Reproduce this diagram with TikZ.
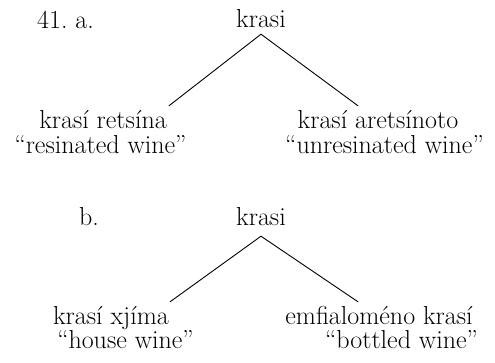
\documentclass[tikz,border=0pt]{standalone}
\usepackage{tikz}

\begin{document}
\begin{tikzpicture}[x=1pt,y=-1pt,line cap=round,line join=round,
  every node/.style={inner sep=0pt,text height=17pt,text depth=4pt,
    font=\fontsize{26}{31}\selectfont}]
\useasboundingbox (0,0) rectangle (495,362);
% a.
\node [anchor=base] (labA) at (65.5,28) {41.\ a.};
\node [anchor=base] (rootA) at (261,27) {krasi};
\node [anchor=base] (retsina) at (103,128) {krasí retsína};
\node [anchor=base] (glossRet) at (100.5,153) {“resinated wine”};
\node [anchor=base] (aretsin) at (378,128) {krasí aretsínoto};
\node [anchor=base] (glossAret) at (384.5,153) {“unresinated wine”};
\draw [line width=0.9pt] ([yshift=-3pt]rootA.south) -- ([shift={(2pt,5pt)}]retsina.north east);
\draw [line width=0.9pt] ([yshift=-3pt]rootA.south) -- ([shift={(-20pt,5pt)}]aretsin.north);
% b.
\node [anchor=base] (labB) at (89,225) {b.};
\node [anchor=base] (rootB) at (261,225) {krasi};
\node [anchor=base] (xjima) at (111,324) {krasí xjíma};
\node [anchor=base] (glossXji) at (125.5,348) {“house wine”};
\node [anchor=base] (emfial) at (379,324) {emfialoméno krasí};
\node [anchor=base] (glossEmf) at (401.5,348) {“bottled wine”};
\draw [line width=0.9pt] ([yshift=-7pt]rootB.south) -- ([shift={(1pt,5pt)}]xjima.north east);
\draw [line width=0.9pt] ([yshift=-7pt]rootB.south) -- ([shift={(-21pt,5pt)}]emfial.north);
\end{tikzpicture}
\end{document}
